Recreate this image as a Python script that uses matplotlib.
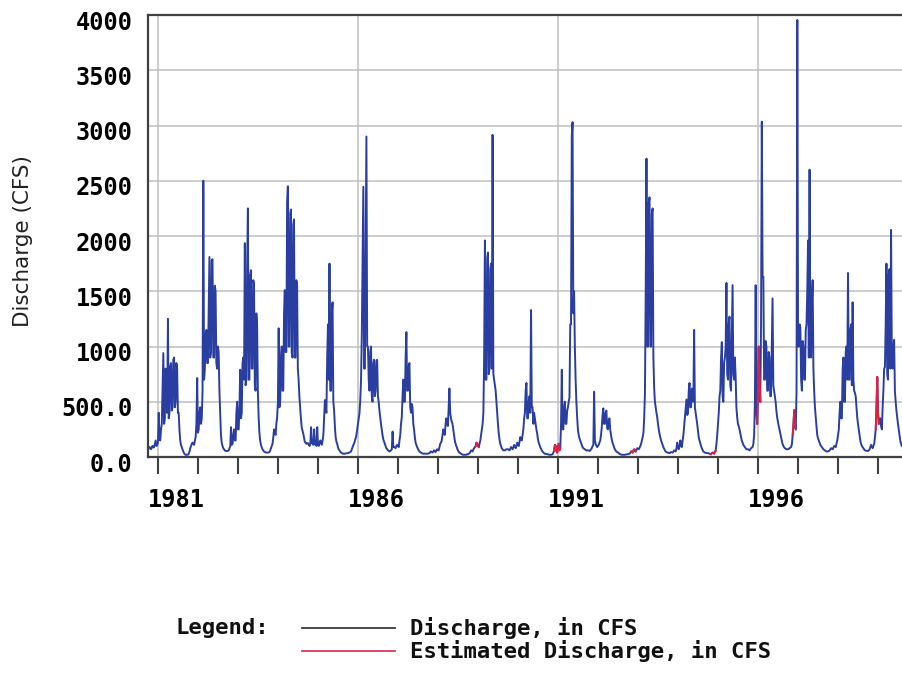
import matplotlib
matplotlib.use('Agg')
import matplotlib.pyplot as plt
import matplotlib.dates as mdates
import matplotlib.transforms as mtransforms
from matplotlib.lines import Line2D
import pandas as pd

# discharge in cfs, one value per week from Oct 1 of each water year
wy1981 = [80, 85, 90, 75, 70, 90, 100, 85, 90, 120, 150, 100, 110, 130, 400, 160, 150, 250,
          300, 600, 940, 300, 350, 800, 700, 400, 1250, 350, 400, 820, 850, 420, 450, 880,
          900, 450, 500, 850, 800, 400, 400, 250, 150, 110, 90, 70, 50, 35, 25, 20, 20, 20]
wy1982 = [20, 30, 50, 80, 100, 120, 130, 120, 110, 150, 180, 300, 715, 220, 250, 400, 450, 300,
          350, 600, 2500, 700, 800, 1100, 1150, 850, 850, 1300, 1810, 900, 950, 1780, 1790, 900,
          900, 1550, 1500, 850, 800, 1000, 950, 600, 400, 200, 130, 100, 80, 70, 60, 55, 55, 55]
wy1983 = [55, 60, 80, 100, 270, 110, 120, 200, 250, 150, 150, 400, 500, 250, 250, 450, 790, 350,
          400, 850, 900, 700, 1935, 650, 700, 1700, 2250, 700, 700, 1650, 1690, 800, 800, 1600,
          1570, 650, 600, 1300, 1200, 600, 360, 220, 150, 110, 90, 70, 60, 50, 45, 42, 40, 40]
wy1984 = [40, 42, 45, 60, 80, 100, 120, 180, 250, 220, 200, 300, 360, 500, 1165, 450, 500, 900,
          1000, 600, 600, 1300, 1510, 950, 950, 2300, 2450, 1000, 1000, 2200, 2240, 950, 900, 2100,
          2150, 900, 900, 1600, 1570, 800, 700, 550, 450, 350, 270, 240, 215, 180, 140, 130, 120, 125]
wy1985 = [125, 110, 100, 120, 270, 130, 120, 110, 250, 120, 110, 100, 270, 110, 100, 120, 150, 130,
          110, 150, 200, 350, 515, 450, 400, 900, 1200, 700, 1750, 600, 600, 1300, 1400, 500,
          425, 280, 180, 140, 120, 90, 70, 60, 50, 40, 35, 32, 30, 30, 30, 32, 35, 35]
wy1986 = [35, 38, 40, 45, 50, 70, 90, 110, 120, 150, 170, 200, 250, 300, 350, 400, 515, 700,
          1100, 1800, 2445, 800, 800, 1900, 2900, 1000, 1000, 700, 600, 950, 1000, 550, 500, 850,
          880, 550, 600, 870, 880, 550, 500, 420, 360, 300, 250, 200, 160, 140, 120, 100, 80, 70]
wy1987 = [60, 55, 50, 55, 60, 70, 230, 90, 90, 85, 80, 100, 110, 100, 90, 150, 200, 300,
          360, 550, 700, 500, 500, 900, 1130, 600, 600, 820, 850, 450, 400, 480, 450, 300,
          250, 180, 130, 110, 90, 75, 60, 50, 45, 40, 35, 32, 30, 30, 30, 30, 30, 30]
wy1988 = [30, 32, 35, 45, 50, 45, 40, 50, 60, 50, 45, 60, 70, 65, 60, 90, 120, 130,
          150, 200, 250, 220, 200, 300, 350, 300, 280, 450, 620, 400, 350, 320, 300, 250,
          200, 150, 120, 100, 80, 60, 50, 40, 35, 30, 25, 22, 20, 20, 20, 20, 20, 25]
wy1989 = [25, 30, 35, 45, 60, 55, 50, 70, 80, 90, 100, 130, 120, 100, 90, 120, 150, 200,
          250, 300, 400, 900, 1960, 700, 700, 1800, 1850, 750, 800, 1700, 1750, 800, 2915, 750,
          700, 650, 600, 500, 400, 300, 215, 160, 120, 100, 80, 70, 60, 60, 60, 65, 70, 70]
wy1990 = [70, 65, 60, 75, 90, 80, 70, 90, 110, 90, 80, 100, 130, 110, 100, 140, 180, 160,
          150, 200, 250, 350, 400, 600, 670, 350, 350, 500, 550, 400, 1330, 450, 450, 300,
          400, 350, 300, 250, 215, 160, 130, 110, 90, 75, 60, 50, 40, 35, 30, 28, 25, 25]
wy1991 = [25, 22, 20, 20, 20, 22, 25, 40, 60, 110, 100, 50, 40, 90, 120, 60, 80, 300,
          790, 250, 250, 450, 500, 300, 300, 420, 450, 500, 540, 1200, 1200, 2900, 3030, 1300,
          1500, 1000, 700, 500, 360, 250, 200, 170, 150, 130, 110, 90, 80, 75, 70, 65, 60, 60]
wy1992 = [60, 58, 55, 60, 70, 80, 100, 110, 590, 150, 120, 100, 90, 100, 110, 130, 150, 200,
          270, 380, 440, 300, 300, 400, 420, 260, 250, 330, 350, 250, 200, 160, 130, 110,
          90, 70, 60, 50, 45, 40, 35, 30, 25, 22, 20, 20, 20, 20, 20, 22, 25, 25]
wy1993 = [25, 28, 30, 40, 50, 45, 40, 60, 70, 55, 50, 65, 80, 75, 70, 85, 100, 120,
          150, 180, 215, 350, 580, 1500, 2700, 1000, 1000, 2300, 2350, 1000, 1000, 2200, 2250, 900,
          630, 500, 450, 400, 360, 300, 250, 210, 180, 150, 130, 110, 90, 75, 60, 50, 45, 40]
wy1994 = [40, 38, 35, 40, 45, 42, 40, 50, 60, 55, 50, 80, 130, 80, 70, 100, 150, 100,
          90, 150, 200, 280, 350, 450, 520, 380, 400, 600, 670, 450, 450, 620, 600, 500,
          1150, 450, 400, 350, 300, 240, 180, 150, 125, 100, 80, 65, 50, 45, 40, 38, 35, 35]
wy1995 = [35, 32, 30, 28, 25, 35, 40, 35, 30, 45, 60, 120, 200, 300, 400, 550, 600, 900,
          1040, 550, 500, 850, 900, 1000, 1575, 750, 700, 1200, 1270, 650, 600, 1100, 1555, 750,
          700, 900, 725, 450, 360, 300, 280, 250, 215, 180, 150, 130, 110, 100, 90, 80, 70, 70]
wy1996 = [70, 65, 60, 70, 80, 85, 90, 120, 200, 500, 1555, 400, 300, 600, 1000, 700, 500, 1200,
          3035, 1630, 1630, 700, 700, 1050, 1000, 600, 600, 950, 900, 550, 550, 1000, 1435, 650,
          600, 550, 500, 420, 360, 320, 280, 250, 215, 180, 150, 120, 100, 90, 80, 75, 70, 70]
wy1997 = [70, 75, 80, 85, 90, 120, 200, 300, 425, 300, 250, 600, 3955, 1000, 1000, 1200, 1170, 700,
          600, 1050, 1000, 700, 700, 1150, 1200, 1500, 1960, 900, 2600, 1000, 900, 1400, 1600, 800,
          600, 450, 360, 280, 200, 170, 150, 130, 110, 100, 90, 80, 70, 65, 60, 55, 50, 50]
wy1998 = [50, 55, 60, 70, 80, 75, 70, 85, 100, 95, 90, 120, 150, 200, 250, 400, 500, 350,
          350, 800, 900, 500, 500, 950, 1000, 700, 1665, 700, 700, 1150, 1200, 650, 1400, 700,
          600, 580, 550, 450, 360, 300, 250, 200, 150, 120, 100, 90, 80, 70, 60, 58, 55, 55]
wy1999 = [55, 60, 70, 90, 110, 90, 80, 100, 120, 180, 250, 450, 725, 400, 300, 320, 350, 280,
          250, 450, 600, 800, 815, 1200, 1750, 750, 700, 1650, 1700, 800, 2055, 900, 800, 1000,
          1060, 600, 500, 420, 360, 300, 250, 200, 150, 120, 100, 95, 90]

# stretches where the record is estimated
est_periods = [('1988-12-05', '1989-01-10'), ('1990-11-20', '1991-01-25'),
               ('1992-10-25', '1992-12-15'), ('1994-10-25', '1994-12-15'),
               ('1995-12-20', '1996-01-25'), ('1996-11-08', '1996-12-15'),
               ('1998-12-05', '1999-01-10')]

ytick_vals = [0, 500, 1000, 1500, 2000, 2500, 3000, 3500, 4000]
ytick_text = ['0.0', '500.0', '1000', '1500', '2000', '2500', '3000', '3500', '4000']
label_years = [1981, 1986, 1991, 1996]

water_years = [wy1981, wy1982, wy1983, wy1984, wy1985, wy1986, wy1987, wy1988, wy1989, wy1990,
               wy1991, wy1992, wy1993, wy1994, wy1995, wy1996, wy1997, wy1998, wy1999]

parts = []
for n, vals in enumerate(water_years):
    idx = pd.date_range(f'{1980 + n}-10-01', periods=len(vals), freq='7D')
    parts.append(pd.Series(vals, index=idx, dtype=float))
flow = pd.concat(parts)

blue = '#2a3ea2'
red = '#e0203c'
frame = '#404040'
mono = dict(family='DejaVu Sans Mono', weight='bold', size=17)

W, H = 903, 685
fig = plt.figure(figsize=(W / 100, H / 100), dpi=100)
ax = fig.add_axes([148 / W, 1 - 457 / H, (W - 148) / W, 442 / H])

ax.plot(flow.index, flow.values, color=blue, lw=1.4)
for a, b in est_periods:
    seg = flow.loc[a:b]
    ax.plot(seg.index, seg.values, color=red, lw=1.4)

ax.set_xlim(pd.Timestamp('1980-10-01'), pd.Timestamp('1999-08-16'))
ax.set_ylim(0, 4000)

# grid
ax.set_yticks(ytick_vals)
ax.set_yticklabels(ytick_text, fontdict=mono)
ax.yaxis.grid(True, color='#c4c4c4', lw=1.2)
for y in label_years:
    ax.axvline(pd.Timestamp(f'{y}-01-01'), color='#c4c4c4', lw=1.2, zorder=0)
ax.set_axisbelow(True)

ax.xaxis.set_major_locator(mdates.YearLocator(1))
ax.xaxis.set_major_formatter(plt.NullFormatter())
ax.set_xticks([mdates.date2num(pd.Timestamp(f'{y}-06-20')) for y in label_years], minor=True)
ax.set_xticklabels([str(y) for y in label_years], minor=True, fontdict=mono)
ax.tick_params(axis='x', which='major', direction='out', length=12, width=1.5, color=frame)
ax.tick_params(axis='x', which='minor', length=0, pad=22)
ax.tick_params(axis='y', length=0, pad=11)

# nudge the value labels down a little
shift = mtransforms.ScaledTranslation(0, -0.05, fig.dpi_scale_trans)
for lab in ax.get_yticklabels():
    lab.set_transform(lab.get_transform() + shift)

for side in ['left', 'top', 'bottom']:
    ax.spines[side].set_color(frame)
    ax.spines[side].set_linewidth(1.6)
ax.spines['right'].set_visible(False)

fig.text(23 / W, 1 - 241 / H, 'Discharge (CFS)', rotation=90, ha='center', va='center',
         fontsize=15.5, color='#222222')

# legend block under the plot
def px(x, y):
    return x / W, 1 - y / H

leg = dict(family='DejaVu Sans Mono', weight='bold', size=16, color='#111111')
fig.text(*px(175, 628), 'Legend:', ha='left', va='center', **leg)
for y, c, txt in [(628, '#3a3a46', 'Discharge, in CFS'),
                  (651, '#d83a5a', 'Estimated Discharge, in CFS')]:
    x0, y0 = px(302, y)
    x1, _ = px(395, y)
    fig.add_artist(Line2D([x0, x1], [y0, y0], transform=fig.transFigure, color=c, lw=1.3))
    fig.text(*px(410, y), txt, ha='left', va='center', **leg)

fig.savefig('out.png', dpi=100, facecolor='white')
